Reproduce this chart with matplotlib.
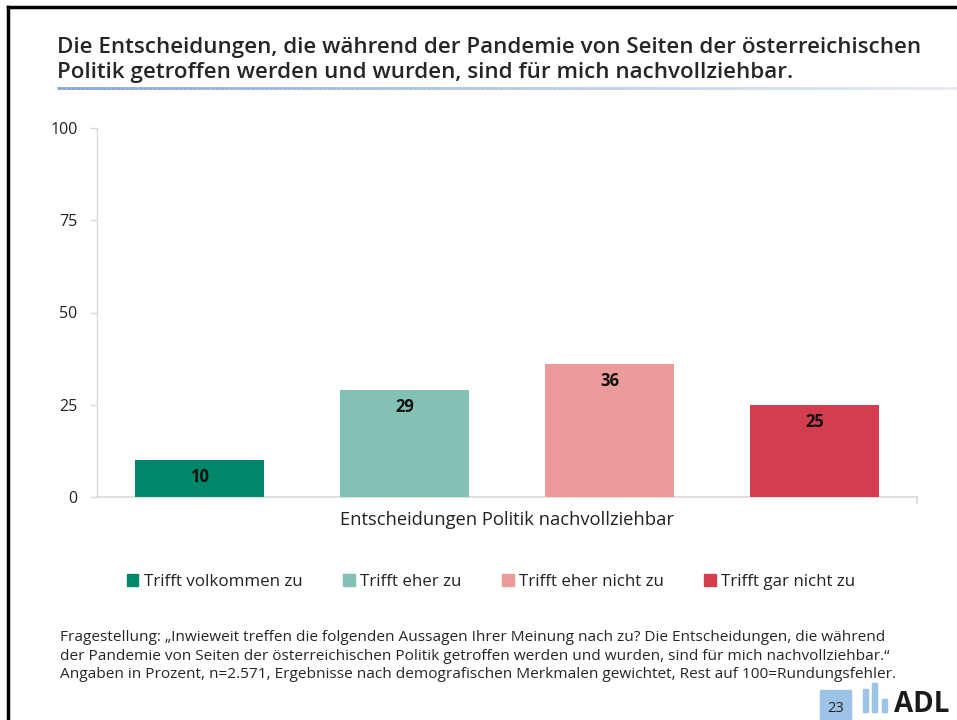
import matplotlib
matplotlib.use("Agg")
import matplotlib.pyplot as plt
from matplotlib.patches import Rectangle
from matplotlib.lines import Line2D
import numpy as np

plt.rcParams['font.family'] = ['Open Sans', 'DejaVu Sans']

series = ["Trifft volkommen zu", "Trifft eher zu", "Trifft eher nicht zu", "Trifft gar nicht zu"]
values = [10, 29, 36, 25]
colors = ["#00876A", "#83C1B5", "#EC9B9B", "#D43C50"]
category = "Entscheidungen Politik nachvollziehbar"
yticks = [0, 25, 50, 75, 100]

title = ("Die Entscheidungen, die während der Pandemie von Seiten der österreichischen\n"
         "Politik getroffen werden und wurden, sind für mich nachvollziehbar.")
footnote = ("Fragestellung: „Inwieweit treffen die folgenden Aussagen Ihrer Meinung nach zu? Die Entscheidungen, die während\n"
            "der Pandemie von Seiten der österreichischen Politik getroffen werden und wurden, sind für mich nachvollziehbar.“\n"
            "Angaben in Prozent, n=2.571, Ergebnisse nach demografischen Merkmalen gewichtet, Rest auf 100=Rundungsfehler.")

W, H = 957, 720
fig = plt.figure(figsize=(W/100, H/100), dpi=100)

# slide frame (left and top)
fig.add_artist(Line2D([8/W, 8/W], [0, 1-7/H], color="black", lw=2.5, transform=fig.transFigure))
fig.add_artist(Line2D([8/W, 1], [1-7/H, 1-7/H], color="black", lw=2.5, transform=fig.transFigure))

# title
fig.text(57/W, 1-60/H, title, ha="left", va="center", fontsize=16.1, fontweight="semibold",
         color="#262626", linespacing=1.22)
# gradient underline
n = 200
xs = np.linspace(57, W, n+1)
c0 = np.array([0.49, 0.64, 0.85]); c1 = np.array([0.90, 0.92, 0.95])
for i in range(n):
    t = i / n
    col = c0 * (1 - t) + c1 * t
    fig.add_artist(Line2D([xs[i]/W, xs[i+1]/W], [1-88/H, 1-88/H], color=col, lw=2,
                          transform=fig.transFigure, solid_capstyle="butt"))

ax = fig.add_axes([97/W, 1-497/H, 820/W, 369/H])
x = np.arange(len(values))
bars = ax.bar(x, values, width=0.63, color=colors, zorder=3)
for xi, v in zip(x, values):
    ax.text(xi, v - 4.6, f"{v}", ha="center", va="center", fontsize=12, fontweight="bold", color="#111111", zorder=4)

ax.set_xlim(-0.5, len(values) - 0.5)
ax.set_ylim(0, 100)
ax.set_yticks(yticks)
ax.set_yticklabels([str(t) for t in yticks], fontsize=11.5, color="#222222")
ax.tick_params(axis="y", length=5, color="#d9d9d9", width=1, pad=9)
ax.set_xticks([])
for s in ["top", "right"]:
    ax.spines[s].set_visible(False)
ax.spines["left"].set_color("#d9d9d9")
ax.spines["bottom"].set_color("#d9d9d9")
ax.spines["left"].set_linewidth(1)
ax.spines["bottom"].set_linewidth(1.2)
# right end tick of category axis
ax.plot([1, 1], [0, -0.015], transform=ax.transAxes, color="#d9d9d9", lw=1.2, clip_on=False)

fig.text(507/W, 1-520/H, category, ha="center", va="center", fontsize=13.2, color="#222222")

handles = [Rectangle((0, 0), 1, 1, color=c) for c in colors]
fig.legend(handles, series, loc="center", bbox_to_anchor=(491/W, 1-582/H), ncol=4, frameon=False,
           fontsize=12.2, handlelength=0.7, handleheight=0.7, handletextpad=0.3, columnspacing=2.4,
           labelcolor="#222222")

fig.text(60/W, 1-656/H, footnote, ha="left", va="center", fontsize=11.1, color="#262626", linespacing=1.36)

# page number box and logo
fig.add_artist(Rectangle((820/W, 0), 31/W, 30/H, color="#9DC3E6", transform=fig.transFigure))
fig.text(835.5/W, 11/H, "23", ha="center", va="center", fontsize=10.5, color="#222222")
for bx, bh in [(863, 23), (872, 29), (882, 13)]:
    fig.add_artist(Rectangle((bx/W, 8/H), 5/W, bh/H, color="#9DC3E6", transform=fig.transFigure))
fig.text(894/W, 8/H, "ADL", ha="left", va="baseline", fontsize=20, fontweight="bold", color="#1a1a1a")

fig.savefig("out.png", dpi=100)
